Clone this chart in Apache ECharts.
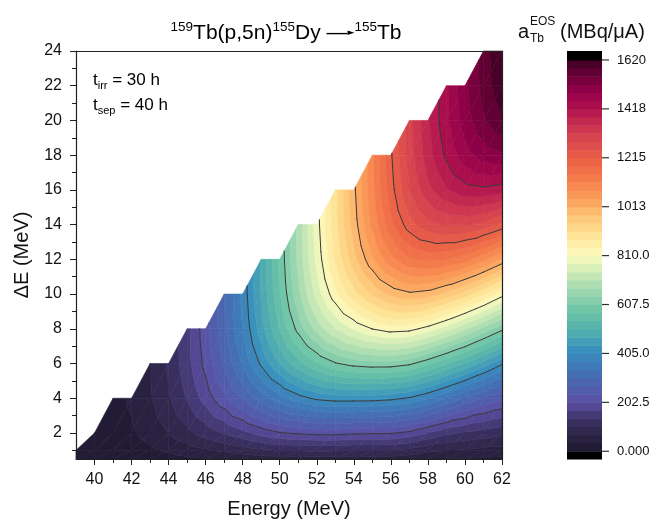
<!DOCTYPE html>
<html><head><meta charset="utf-8">
<script src="https://cdn.jsdelivr.net/npm/echarts@6/dist/echarts.min.js"></script>
<style>html,body{margin:0;padding:0;background:#fff}#c{width:656px;height:524px}</style>
</head><body><div id="c"></div>
<script>
// ---------- data ----------
const energies = [39,40,41,42,43,44,45,46,47,48,49,50,51,52,53,54,55,56,57,58,59,60,61,62];
const deltaE = [0.5,1,2,4,6,8,10,12,14,16,18,20,22,24];
const _ = null;
const z_dE0_5 = [1.5,3.5,5.5,9,14,20,26,32,37,42.5,48.5,51.5,52.5,54,53,51.5,52,51,46,38,34,32,29,26.5];
const z_dE1  = [3,7,11,18,28,40,52,64,74,85,97,103,105,108,106,103,104,102,92,76,68,64,58,53];
const z_dE2  = [_,10,18,29,46,68,92,116,138,159,182,200,208,213,214,209,207,206,194,168,144,132,122,111];
const z_dE4  = [_,_,21,39,64,97,138,184,230,275,320,359,390,413,422,422,421,415,401,374,338,300,266,243];
const z_dE6  = [_,_,_,_,67,107,156,213,276,343,412,475,528,572,604,622,629,628,615,583,545,506,460,411];
const z_dE8  = [_,_,_,_,_,_,159,223,294,372,458,543,620,688,742,781,811,828,823,796,759,715,667,617];
const z_dE10 = [_,_,_,_,_,_,_,_,297,382,476,572,666,756,834,897,949,987,1005,996,967,928,881,826];
const z_dE12 = [_,_,_,_,_,_,_,_,_,_,479,582,684,785,880,965,1041,1103,1143,1155,1149,1128,1089,1039];
const z_dE14 = [_,_,_,_,_,_,_,_,_,_,_,_,687,795,898,994,1087,1171,1235,1271,1287,1287,1271,1239];
const z_dE16 = [_,_,_,_,_,_,_,_,_,_,_,_,_,_,901,1004,1105,1200,1281,1339,1379,1403,1409,1398];
const z_dE18 = [_,_,_,_,_,_,_,_,_,_,_,_,_,_,_,_,1108,1210,1299,1368,1425,1471,1501,1514];
const z_dE20 = [_,_,_,_,_,_,_,_,_,_,_,_,_,_,_,_,_,_,1302,1378,1443,1500,1547,1582];
const z_dE22 = [_,_,_,_,_,_,_,_,_,_,_,_,_,_,_,_,_,_,_,_,1446,1510,1565,1611];
const z_dE24 = [_,_,_,_,_,_,_,_,_,_,_,_,_,_,_,_,_,_,_,_,_,_,1568,1621];
const zRows = [z_dE0_5,z_dE1,z_dE2,z_dE4,z_dE6,z_dE8,z_dE10,z_dE12,z_dE14,z_dE16,z_dE18,z_dE20,z_dE22,z_dE24];

const xTickValues = [40,42,44,46,48,50,52,54,56,58,60,62];
const xMinorValues = [41,43,45,47,49,51,53,55,57,59,61];
const yTickValues = [2,4,6,8,10,12,14,16,18,20,22,24];
const yMinorValues = [1,3,5,7,9,11,13,15,17,19,21,23];
const colorTickValues = [0,202.5,405,607.5,810,1012.5,1215,1417.5,1620];
const colorTickLabels = ['0.000','202.5','405.0','607.5','810.0','1013','1215','1418','1620'];
const contourLevels = [202.5,405,607.5,810,1012.5,1215,1417.5];
const zMin = 0, zMax = 1620, nBands = 48;
const cbMin = -32, cbMax = 1657;

// ---------- colour map ----------
const stops = [
 [0.00,'#1e1830'],[0.04,'#2b2444'],[0.08,'#3b3163'],[0.125,'#5b4ea2'],[0.17,'#4d62ad'],
 [0.22,'#3f7ab8'],[0.26,'#3991be'],[0.31,'#52b0ad'],[0.36,'#6cc4a6'],[0.41,'#9dd6b0'],
 [0.46,'#d0ecb6'],[0.50,'#fbfbbf'],[0.55,'#fee597'],[0.60,'#fdc577'],[0.64,'#fca35d'],
 [0.69,'#f6804c'],[0.74,'#ec6446'],[0.79,'#da4b4d'],[0.83,'#cc3350'],[0.875,'#b0124d'],
 [0.92,'#94004a'],[0.96,'#6a0038'],[1.00,'#3d0020']];
function hex(h){return [parseInt(h.substr(1,2),16),parseInt(h.substr(3,2),16),parseInt(h.substr(5,2),16)];}
function cmap(t){
  t=Math.max(0,Math.min(1,t));
  for(let i=1;i<stops.length;i++){
    if(t<=stops[i][0]){
      const a=stops[i-1],b=stops[i];const u=(t-a[0])/(b[0]-a[0]);
      const ca=hex(a[1]),cb=hex(b[1]);
      return 'rgb('+ca.map((v,k)=>Math.round(v+u*(cb[k]-v))).join(',')+')';
    }
  }
  return stops[stops.length-1][1];
}
const step = (zMax-zMin)/nBands;
const bandColors = [];
for(let k=0;k<nBands;k++) bandColors.push(cmap((k+0.5)/nBands));

// ---------- triangles ----------
const tris = [];
for(let j=0;j<deltaE.length-1;j++){
  for(let i=0;i<energies.length-1;i++){
    const a=zRows[j][i], b=zRows[j][i+1], c=zRows[j+1][i+1], d=zRows[j+1][i];
    const A=[energies[i],deltaE[j],a], B=[energies[i+1],deltaE[j],b],
          C=[energies[i+1],deltaE[j+1],c], D=[energies[i],deltaE[j+1],d];
    if(a!==null&&b!==null&&c!==null) tris.push([A,B,C]);
    if(a!==null&&c!==null&&d!==null) tris.push([A,C,D]);
  }
}
function clipHalf(poly,L,above){
  const out=[];const n=poly.length;
  for(let k=0;k<n;k++){
    const P=poly[k],Q=poly[(k+1)%n];
    const pin=above?P[2]>=L:P[2]<=L, qin=above?Q[2]>=L:Q[2]<=L;
    if(pin) out.push(P);
    if(pin!==qin){const t=(L-P[2])/(Q[2]-P[2]);out.push([P[0]+t*(Q[0]-P[0]),P[1]+t*(Q[1]-P[1]),L]);}
  }
  return out;
}
const triData = tris.map((t,idx)=>[t[0][0],t[0][1],idx]);

const font = 'Liberation Sans, Arial, sans-serif';
const axisCol = '#222';

const option = {
  animation:false,
  backgroundColor:'#fff',
  grid:[
    {left:76,top:51,width:426,height:410,containLabel:false},
    {left:567,top:51,width:35,height:408,containLabel:false}
  ],
  xAxis:[
    {type:'value',gridIndex:0,min:39,max:62,position:'bottom',z:10,
     axisLine:{show:true,onZero:false,lineStyle:{color:axisCol,width:1.2}},
     axisTick:{show:true,customValues:xTickValues,length:6,lineStyle:{color:axisCol}},
     axisLabel:{customValues:xTickValues,fontSize:16,color:'#111',fontFamily:font,margin:13},
     splitLine:{show:false},
     name:'Energy (MeV)',nameLocation:'middle',nameGap:40,
     nameTextStyle:{fontSize:20,color:'#111',fontFamily:font}},
    {type:'value',gridIndex:0,min:39,max:62,position:'bottom',z:10,
     axisLine:{show:false,onZero:false},
     axisTick:{show:true,customValues:xMinorValues,length:4,lineStyle:{color:axisCol}},
     axisLabel:{show:false},splitLine:{show:false}},
    {type:'value',gridIndex:0,min:39,max:62,position:'top',z:10,
     axisLine:{show:true,onZero:false,lineStyle:{color:axisCol,width:1.2}},
     axisTick:{show:false},axisLabel:{show:false},splitLine:{show:false}},
    {type:'value',gridIndex:1,min:0,max:1,show:false}
  ],
  yAxis:[
    {type:'value',gridIndex:0,min:0.5,max:24,position:'left',z:10,
     axisLine:{show:true,onZero:false,lineStyle:{color:axisCol,width:1.2}},
     axisTick:{show:true,customValues:yTickValues,length:6,lineStyle:{color:axisCol}},
     axisLabel:{customValues:yTickValues,fontSize:16,color:'#111',fontFamily:font,margin:14},
     splitLine:{show:false},
     name:'\u0394E (MeV)',nameLocation:'middle',nameGap:44,nameRotate:90,
     nameTextStyle:{fontSize:20,color:'#111',fontFamily:font}},
    {type:'value',gridIndex:0,min:0.5,max:24,position:'left',z:10,
     axisLine:{show:false,onZero:false},
     axisTick:{show:true,customValues:yMinorValues,length:4,lineStyle:{color:axisCol}},
     axisLabel:{show:false},splitLine:{show:false}},
    {type:'value',gridIndex:0,min:0.5,max:24,position:'right',z:10,
     axisLine:{show:true,onZero:false,lineStyle:{color:axisCol,width:1.2}},
     axisTick:{show:false},axisLabel:{show:false},splitLine:{show:false}},
    {type:'value',gridIndex:1,min:cbMin,max:cbMax,position:'right',z:10,
     axisLine:{show:false},
     axisTick:{show:false},
     axisLabel:{customValues:colorTickValues,fontSize:13,color:'#111',fontFamily:font,margin:15,
       formatter:function(v){const i=colorTickValues.indexOf(v);return i>=0?colorTickLabels[i]:'';}},
     splitLine:{show:false}}
  ],
  series:[
    {type:'custom',xAxisIndex:0,yAxisIndex:0,silent:true,z:2,
     dimensions:['E','dE','idx'],encode:{x:0,y:1},data:triData,
     renderItem:function(params,api){
       const tri=tris[api.value(2)];
       const zs=tri.map(p=>p[2]);
       const mn=Math.min.apply(null,zs),mx=Math.max.apply(null,zs);
       const k0=Math.max(0,Math.floor((mn-zMin)/step)), k1=Math.min(nBands-1,Math.floor((mx-zMin)/step));
       const children=[];
       for(let k=k0;k<=k1;k++){
         let poly=tri;
         if(k>0) poly=clipHalf(poly,zMin+k*step,true);
         if(poly.length<3) continue;
         if(k<nBands-1) poly=clipHalf(poly,zMin+(k+1)*step,false);
         if(poly.length<3) continue;
         const pts=poly.map(p=>api.coord([p[0],p[1]]));
         children.push({type:'polygon',shape:{points:pts},
           style:{fill:bandColors[k],stroke:bandColors[k],lineWidth:0.6}});
       }
       return {type:'group',children};
     }},
    {type:'custom',xAxisIndex:0,yAxisIndex:0,silent:true,z:3,
     dimensions:['E','dE','idx'],encode:{x:0,y:1},data:triData,
     renderItem:function(params,api){
       const tri=tris[api.value(2)];
       const children=[];
       contourLevels.forEach(L=>{
         const pts=[];
         for(let k=0;k<3;k++){
           const P=tri[k],Q=tri[(k+1)%3];
           const pa=P[2]>=L,qa=Q[2]>=L;
           if(pa!==qa){const t=(L-P[2])/(Q[2]-P[2]);pts.push([P[0]+t*(Q[0]-P[0]),P[1]+t*(Q[1]-P[1])]);}
         }
         if(pts.length===2){
           const p1=api.coord(pts[0]),p2=api.coord(pts[1]);
           children.push({type:'line',shape:{x1:p1[0],y1:p1[1],x2:p2[0],y2:p2[1]},
             style:{stroke:'#3a3a3a',lineWidth:1,lineCap:'round'}});
         }
       });
       return {type:'group',children};
     }},
    {type:'custom',xAxisIndex:3,yAxisIndex:3,silent:true,z:2,
     dimensions:['lo','hi','k'],encode:{y:[0,1]},
     data:(function(){
       const d=[[cbMin,zMin,-1]];
       for(let k=0;k<nBands;k++) d.push([zMin+k*step,zMin+(k+1)*step,k]);
       d.push([zMax,cbMax,nBands]);
       return d;
     })(),
     renderItem:function(params,api){
       const lo=api.value(0),hi=api.value(1),k=api.value(2);
       const p0=api.coord([0,lo]),p1=api.coord([1,hi]);
       const col=(k<0||k>=nBands)?'#000':bandColors[k];
       return {type:'rect',shape:{x:p0[0],y:p1[1],width:p1[0]-p0[0],height:p0[1]-p1[1]+0.5},
         style:{fill:col,stroke:null}};
     }},
    {type:'custom',xAxisIndex:3,yAxisIndex:3,silent:true,z:4,
     dimensions:['v'],encode:{y:0},data:colorTickValues.map(v=>[v]),
     renderItem:function(params,api){
       const p=api.coord([1,api.value(0)]);
       return {type:'line',shape:{x1:p[0],y1:p[1],x2:p[0]+7,y2:p[1]},
         style:{stroke:'#333',lineWidth:1.2}};
     }}
  ],
  graphic:[
    {type:'text',x:286,y:33,z:20,style:{
      text:'{sup|159}{n|Tb(p,5n)}{sup|155}{n|Dy }{arr|\u2014}{hd|\u25BA}{sup|155}{n|Tb}',
      align:'center',verticalAlign:'middle',
      rich:{n:{fontSize:21,fontFamily:font,color:'#111',lineHeight:25},
            sup:{fontSize:13.5,fontFamily:font,color:'#111',lineHeight:14,verticalAlign:'top'},
            arr:{fontSize:21,fontFamily:font,color:'#111',lineHeight:25},
            hd:{fontSize:9,fontFamily:'DejaVu Sans',color:'#111',lineHeight:25}}}},
    {type:'text',x:93,y:80,z:20,style:{
      text:'{n|t}{sub|irr}{n| = 30 h}',align:'left',verticalAlign:'middle',
      rich:{n:{fontSize:17,fontFamily:font,color:'#111',lineHeight:22},
            sub:{fontSize:11,fontFamily:font,color:'#111',lineHeight:11,verticalAlign:'bottom'}}}},
    {type:'text',x:93,y:105,z:20,style:{
      text:'{n|t}{sub|sep}{n| = 40 h}',align:'left',verticalAlign:'middle',
      rich:{n:{fontSize:17,fontFamily:font,color:'#111',lineHeight:22},
            sub:{fontSize:11,fontFamily:font,color:'#111',lineHeight:11,verticalAlign:'bottom'}}}},
    {type:'text',x:518,y:32,z:20,style:{text:'a',fontSize:20,fontFamily:font,fill:'#111',align:'left',verticalAlign:'middle'}},
    {type:'text',x:530,y:22,z:20,style:{text:'EOS',fontSize:12,fontFamily:font,fill:'#111',align:'left',verticalAlign:'middle'}},
    {type:'text',x:530,y:39,z:20,style:{text:'Tb',fontSize:12,fontFamily:font,fill:'#111',align:'left',verticalAlign:'middle'}},
    {type:'text',x:560,y:32,z:20,style:{text:'(MBq/\u03BCA)',fontSize:20,fontFamily:font,fill:'#111',align:'left',verticalAlign:'middle'}}
  ]
};
const chart = echarts.init(document.getElementById('c'),null,{renderer:'canvas'});
chart.setOption(option);
</script>
</body></html>
